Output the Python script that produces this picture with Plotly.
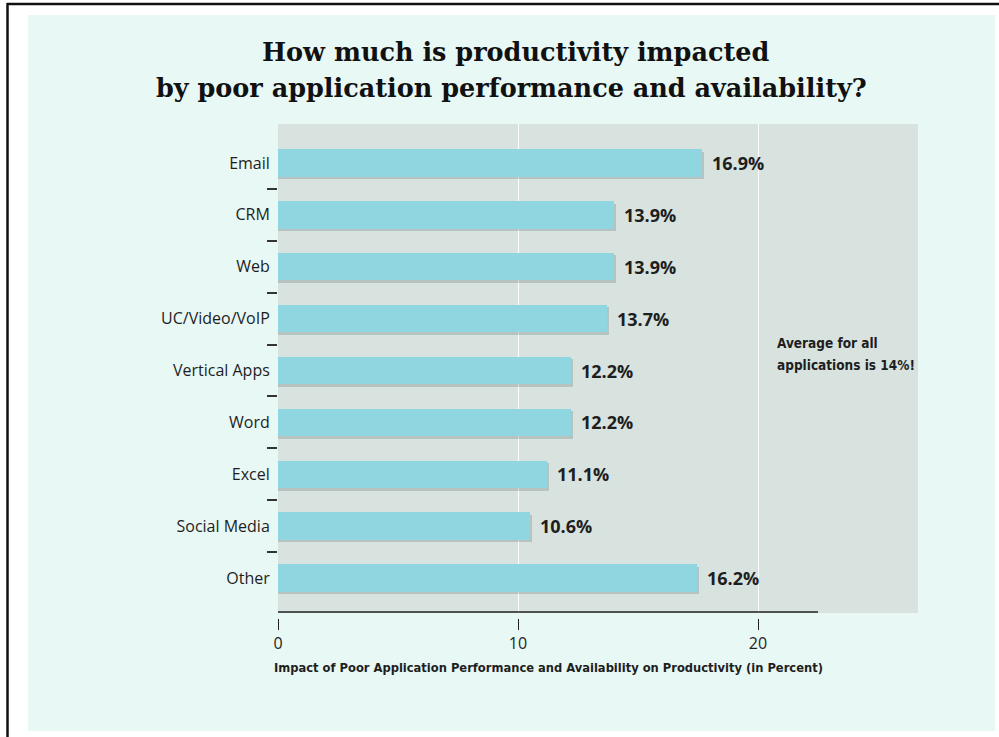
import plotly.graph_objects as go

# ---- data ----
categories = ["Email", "CRM", "Web", "UC/Video/VoIP", "Vertical Apps", "Word",
              "Excel", "Social Media", "Other"]
bar_lengths = [17.65, 14.0, 14.0, 13.7, 12.2, 12.2, 11.2, 10.5, 17.45]   # drawn bar lengths
value_labels = ["16.9%", "13.9%", "13.9%", "13.7%", "12.2%", "12.2%", "11.1%", "10.6%", "16.2%"]
x_ticks = [0, 10, 20]
title_lines = ["How much is productivity impacted",
               "by poor application performance and availability?"]
x_title = "Impact of Poor Application Performance and Availability on Productivity (in Percent)"
note_lines = ["Average for all", "applications is 14%!"]

# ---- layout geometry (pixels) ----
W, H = 999, 737
L, R, T, B = 278, 918, 124, 618   # paper area (plot left/right/top, x-axis position)
PW, PH = R - L, B - T


def px2x(px):
    return (px - L) / PW


def px2y(py):
    return (B - py) / PH


BAR = "#8fd6e0"
PLOT_BG = "#d8e3df"
MINT = "#e8f8f5"
INK = "#1e1e1e"
SANS = "Open Sans, Noto Sans, sans-serif"
NARROW = "Liberation Sans Narrow, DejaVu Sans Condensed, sans-serif"
SERIF = "DejaVu Serif, serif"

idx = list(range(len(categories)))
shadow_shift = 2.5 / 51.9

fig = go.Figure()
# soft shadow under bars
fig.add_trace(go.Bar(
    y=idx, x=[v + 0.08 for v in bar_lengths], orientation="h", width=0.53,
    offset=-0.265 + shadow_shift,
    marker=dict(color="rgba(80,100,100,0.25)", line=dict(width=0)),
    hoverinfo="skip", showlegend=False,
))
fig.add_trace(go.Bar(
    y=idx, x=bar_lengths, orientation="h", width=0.53, offset=-0.265,
    marker=dict(color=BAR, line=dict(width=0)),
    showlegend=False,
))
# invisible helper so the boundary-tick axis is drawn
fig.add_trace(go.Scatter(x=[0], y=[0], yaxis="y2", mode="markers",
                         marker=dict(opacity=0), hoverinfo="skip", showlegend=False))

annotations = []
for i, (v, lab) in enumerate(zip(bar_lengths, value_labels)):
    annotations.append(dict(x=v, y=i, xref="x", yref="y", text=lab, showarrow=False,
                            xanchor="left", xshift=8, yanchor="middle",
                            font=dict(family=SANS, size=18, color=INK, weight="bold")))

annotations.append(dict(x=px2x(515), y=px2y(52), xref="paper", yref="paper",
                        text="<b>" + title_lines[0] + "</b>", showarrow=False,
                        xanchor="center", yanchor="middle",
                        font=dict(family=SERIF, size=25.5, color="#111")))
annotations.append(dict(x=px2x(511), y=px2y(88), xref="paper", yref="paper",
                        text="<b>" + title_lines[1] + "</b>", showarrow=False,
                        xanchor="center", yanchor="middle",
                        font=dict(family=SERIF, size=25.5, color="#111")))
annotations.append(dict(x=px2x(548), y=px2y(667), xref="paper", yref="paper",
                        text="<b>" + x_title + "</b>", showarrow=False,
                        xanchor="center", yanchor="middle",
                        font=dict(family=NARROW, size=12.8, color=INK)))
for k, (line, py) in enumerate(zip(note_lines, [343, 365])):
    annotations.append(dict(x=px2x(775), y=px2y(py), xref="paper", yref="paper",
                            text="<b>" + line + "</b>", showarrow=False,
                            xanchor="left", yanchor="middle", align="left",
                            font=dict(family=NARROW, size=13.5, color=INK)))

shapes = [
    # mint panel
    dict(type="rect", xref="paper", yref="paper", layer="below",
         x0=px2x(28), x1=px2x(995), y0=px2y(731), y1=px2y(15),
         fillcolor=MINT, line=dict(width=0)),
    # grey plotting panel
    dict(type="rect", xref="paper", yref="paper", layer="below",
         x0=0, x1=1, y0=px2y(613), y1=1,
         fillcolor=PLOT_BG, line=dict(width=0)),
    # outer frame lines
    dict(type="line", xref="paper", yref="paper", x0=px2x(7), x1=px2x(1005),
         y0=px2y(4), y1=px2y(4), line=dict(color="#111", width=2.5)),
    dict(type="line", xref="paper", yref="paper", x0=px2x(7.5), x1=px2x(7.5),
         y0=px2y(3), y1=px2y(745), line=dict(color="#111", width=2.5)),
    # x axis baseline (stops at 22.5)
    dict(type="line", xref="x", yref="paper", x0=0, x1=22.5,
         y0=px2y(612), y1=px2y(612), line=dict(color="#222", width=1.5)),
]

ydom0 = (B - 613) / PH
fig.update_layout(
    width=W, height=H,
    margin=dict(l=L, r=W - R, t=T, b=H - B, pad=0),
    paper_bgcolor="white",
    plot_bgcolor=PLOT_BG,
    barmode="overlay",
    bargap=0,
    annotations=annotations,
    shapes=shapes,
    xaxis=dict(range=[0, PW / 24.0], tickvals=x_ticks, ticks="outside", ticklen=11,
               tickwidth=1.3, tickcolor="#222", showline=False, zeroline=False,
               showgrid=True, gridcolor="white", gridwidth=1.3,
               anchor="free", position=0,
               tickfont=dict(family=SANS, size=16, color=INK)),
    yaxis=dict(range=[8.674, -0.751], tickvals=idx, ticktext=categories,
               domain=[ydom0, 1], ticks="outside", ticklen=4,
               tickcolor="rgba(0,0,0,0)", showgrid=False, zeroline=False,
               showline=False, tickfont=dict(family=SANS, size=16, color=INK)),
    yaxis2=dict(range=[8.674, -0.751], overlaying="y", side="left", anchor="x",
                tickvals=[i + 0.5 for i in idx[:-1]], ticks="outside", ticklen=10,
                tickwidth=1.5, tickcolor="#333", showticklabels=False,
                showgrid=False, zeroline=False, showline=False),
)

fig.write_html("out.html")
